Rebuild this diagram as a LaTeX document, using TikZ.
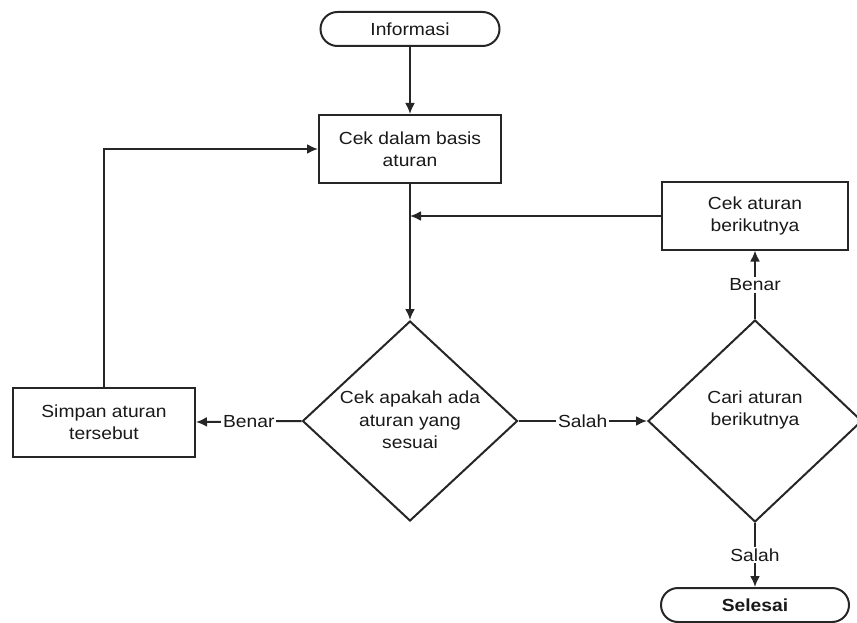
\documentclass[tikz,border=0pt]{standalone}
\usepackage{fontspec}
\setmainfont{Liberation Sans}[FakeStretch=1.1]
\usetikzlibrary{shapes.geometric,arrows.meta}
\begin{document}
\begin{tikzpicture}[x=1pt,y=-1pt,
  every node/.style={font=\fontsize{17.5}{22.5}\selectfont, text=black!90},
  line/.style={draw=black!85, line width=2pt},
  arr/.style={line, -{Latex[length=11pt,width=10pt]}},
  procbox/.style={line, rectangle, inner sep=0pt, align=center},
  termbox/.style={line, rectangle, rounded corners=17pt, inner sep=0pt, minimum height=34pt},
  decbox/.style={line, diamond, inner sep=0pt},
  lbl/.style={fill=white, inner sep=2pt},
]
\useasboundingbox (0,0) rectangle (857,623);
\node[termbox, minimum width=179pt] (info) at (410,29) {Informasi};
\node[procbox, minimum width=182pt, minimum height=68pt] (cek) at (410,149) {Cek dalam basis\\aturan};
\node[decbox, minimum width=215pt, minimum height=200pt] (d1) at (410,421) {};
\node[align=center] (d1t) at (410,420) {Cek apakah ada\\aturan yang\\sesuai};
\node[decbox, minimum width=214pt, minimum height=202pt] (d2) at (755,421) {};
\node[align=center] (d2t) at (755,410) {Cari aturan\\berikutnya};
\node[procbox, minimum width=186pt, minimum height=67pt] (nxt) at (755,216) {Cek aturan\\berikutnya};
\node[procbox, minimum width=182pt, minimum height=69pt] (simpan) at (104,422) {Simpan aturan\\tersebut};
\node[termbox, minimum width=188pt] (selesai) at (755,605) {\bfseries Selesai};
\coordinate (m) at (cek.south |- nxt.west);

\draw[arr] (info) -- (cek);
\draw[arr] (cek) -- (d1.north);
\draw[arr] (nxt.west) -- (m);
\draw[arr] (d1.west) -- node[lbl] {Benar} (simpan.east);
\draw[arr] (d1.east) -- node[lbl] {Salah} (d2.west);
\draw[arr] (simpan.north) |- (cek.west);
\draw[arr] (d2.north) -- node[lbl] {Benar} (nxt.south);
\draw[arr] (d2.south) -- node[lbl] {Salah} (selesai.north);
\end{tikzpicture}
\end{document}
